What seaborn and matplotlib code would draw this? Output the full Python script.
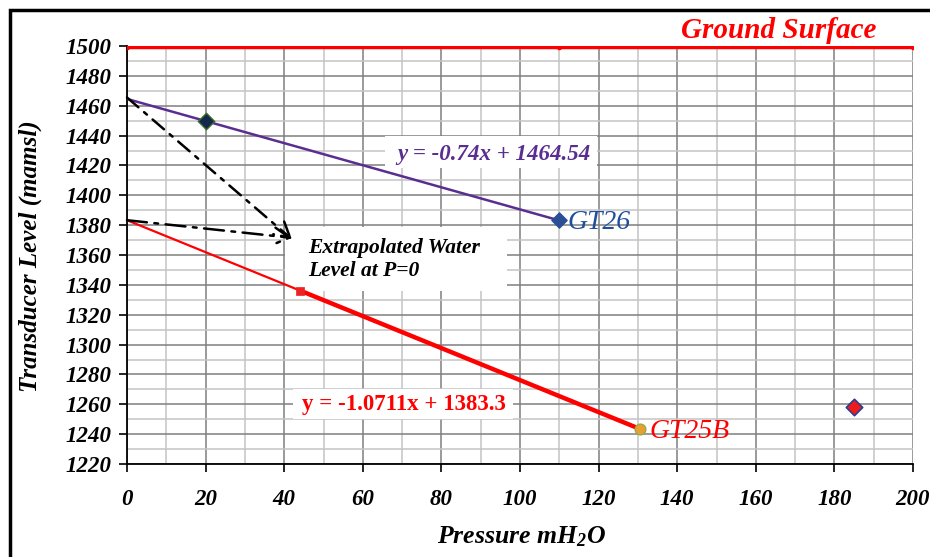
import matplotlib
matplotlib.use("Agg")
import numpy as np
import pandas as pd
import seaborn as sns
import matplotlib.pyplot as plt
from matplotlib.patches import Rectangle
from matplotlib.ticker import MultipleLocator

# ---- data ----
ground_x = [0, 110, 200]
ground_y = [1499, 1499, 1499]

gt26_x = [0, 20, 110]
gt26_y = [1464.54, 1449.74, 1383.14]

gt25b_extrap_x = [0, 44]
gt25b_extrap_y = [1383.3, 1336.2]

gt25b_x = [44, 130.5]
gt25b_y = [1336.2, 1243.5]

other_x = [185]
other_y = [1258.4]

x_ticks = list(range(0, 201, 20))
y_ticks = list(range(1220, 1501, 20))

sns.set_theme(style="white")
plt.rcParams['font.family'] = ['Liberation Serif', 'DejaVu Serif']
plt.rcParams['mathtext.fontset'] = 'custom'
plt.rcParams['mathtext.rm'] = 'Liberation Serif:italic:bold'
plt.rcParams['mathtext.it'] = 'Liberation Serif:italic:bold'
plt.rcParams['mathtext.bf'] = 'Liberation Serif:italic:bold'

fig = plt.figure(figsize=(9.3, 5.57), dpi=100)
ax = fig.add_axes([127/930, 1-464/557, (913-127)/930, (464-46)/557])

ax.set_xlim(0, 200)
ax.set_ylim(1220, 1500)
ax.xaxis.set_major_locator(MultipleLocator(20))
ax.xaxis.set_minor_locator(MultipleLocator(10))
ax.yaxis.set_major_locator(MultipleLocator(20))
ax.yaxis.set_minor_locator(MultipleLocator(10))
ax.set_xticks(x_ticks)
ax.set_yticks(y_ticks)
ax.grid(True, which='major', color='#7f7f7f', linewidth=1.1)
ax.grid(True, which='minor', color='#c4c4c4', linewidth=1.1)
ax.set_axisbelow(True)

for s in ['top', 'right']:
    ax.spines[s].set_visible(False)
for s in ['left', 'bottom']:
    ax.spines[s].set_color('black')
    ax.spines[s].set_linewidth(1.3)

ax.tick_params(axis='both', which='major', direction='out', length=6, width=1.2,
               color='black', left=True, bottom=True)
ax.tick_params(axis='both', which='minor', length=0)
ax.tick_params(axis='x', pad=12)
ax.tick_params(axis='y', pad=5.5)
for lab in ax.get_xticklabels() + ax.get_yticklabels():
    lab.set_fontsize(16.5)
    lab.set_fontweight('bold')
    lab.set_fontstyle('italic')
    lab.set_color('black')

# white label boxes behind lines
ax.add_patch(Rectangle((65.6, 1418.5), 54, 21.5, facecolor='white', edgecolor='none', zorder=1))
ax.add_patch(Rectangle((40.2, 1336), 56.4, 43, facecolor='white', edgecolor='none', zorder=1))
ax.add_patch(Rectangle((42.3, 1250), 56, 20, facecolor='white', edgecolor='none', zorder=1))

# ---- lines ----
sns.lineplot(x=ground_x, y=ground_y, ax=ax, color='#ff0000', linewidth=3.2,
             marker='o', markersize=4, markeredgewidth=0, zorder=4, estimator=None, sort=False)
sns.lineplot(x=gt26_x, y=gt26_y, ax=ax, color='#5a2d91', linewidth=1.8, zorder=3,
             estimator=None, sort=False)
sns.lineplot(x=gt25b_extrap_x, y=gt25b_extrap_y, ax=ax, color='#ff0000', linewidth=1.6,
             zorder=3, estimator=None, sort=False)
sns.lineplot(x=gt25b_x, y=gt25b_y, ax=ax, color='#ff0000', linewidth=3.2,
             zorder=3, estimator=None, sort=False)

# ---- markers ----
sns.scatterplot(x=gt26_x[1:2], y=gt26_y[1:2], ax=ax, marker='D', s=70, color='#14284b',
                edgecolor='#3b6b2a', linewidth=1, zorder=5)
sns.scatterplot(x=gt26_x[2:3], y=gt26_y[2:3], ax=ax, marker='D', s=60, color='#2a4f95',
                edgecolor='#2a4f95', linewidth=1, zorder=5)
sns.scatterplot(x=gt25b_x[0:1], y=gt25b_y[0:1], ax=ax, marker='s', s=30, color='#ee2222',
                edgecolor='#ee2222', linewidth=0.5, zorder=5)
sns.scatterplot(x=gt25b_x[1:2], y=gt25b_y[1:2], ax=ax, marker='o', s=60, color='#e8a030',
                edgecolor='#9aa84a', linewidth=1, zorder=5)
sns.scatterplot(x=other_x, y=other_y, ax=ax, marker='D', s=70, color='#ee1c1c',
                edgecolor='#2a3f8f', linewidth=1.2, zorder=5)

# ---- arrows ----
ax.annotate('', xy=(42, 1370.5), xytext=(0, 1465.5),
            arrowprops=dict(arrowstyle='->,head_length=0.9,head_width=0.5', color='black',
                            lw=1.8, linestyle=(0, (6, 3, 1.5, 3)), shrinkA=0, shrinkB=0),
            zorder=6)
ax.annotate('', xy=(42, 1371.5), xytext=(0, 1383.3),
            arrowprops=dict(arrowstyle='->,head_length=0.9,head_width=0.5', color='black',
                            lw=1.8, linestyle=(0, (8, 3, 1.5, 3)), shrinkA=0, shrinkB=0),
            zorder=6)

# ---- texts ----
ax.text(46.2, 1357, 'Extrapolated Water\nLevel at P=0', fontsize=15.5, fontweight='bold',
        fontstyle='italic', color='black', ha='left', va='center', linespacing=1.15, zorder=7)
ax.text(93.4, 1427, 'y = -0.74x + 1464.54', fontsize=16.5, fontweight='bold',
        fontstyle='italic', color='#5a2d91', ha='center', va='center', zorder=7)
ax.text(70.5, 1260, 'y = -1.0711x + 1383.3', fontsize=16.5, fontweight='bold',
        color='#ff0000', ha='center', va='center', zorder=7)
ax.text(112, 1382, 'GT26', fontsize=20, fontstyle='italic', color='#1f4e9c',
        ha='left', va='center', zorder=7)
ax.text(133, 1242, 'GT25B', fontsize=20, fontstyle='italic', color='#ff0000',
        ha='left', va='center', zorder=7)

fig.text(779/930, 1-30/557, 'Ground Surface', fontsize=21, fontweight='bold',
         fontstyle='italic', color='#ff0000', ha='center', va='center')
fig.text(30/930, 1-256/557, 'Transducer Level (mamsl)', fontsize=18, fontweight='bold',
         fontstyle='italic', color='black', ha='center', va='center', rotation=90)
fig.text(522/930, 1-537/557, r'Pressure mH$_{2}$O', fontsize=18.5, fontweight='bold',
         fontstyle='italic', color='black', ha='center', va='center')

# outer frame
fig.patches.append(Rectangle((10/930, -0.1), 1.2, 1-10/557 + 0.1, transform=fig.transFigure,
                             facecolor='none', edgecolor='black', linewidth=2.5))

fig.savefig('out.png', dpi=100, facecolor='white')
